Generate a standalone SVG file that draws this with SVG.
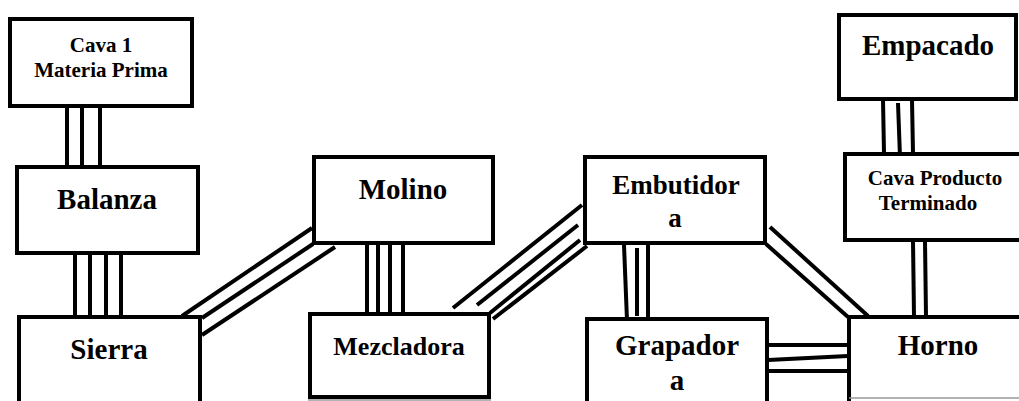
<svg xmlns="http://www.w3.org/2000/svg" width="1019" height="401" viewBox="0 0 1019 401">
<style>
.box{fill:#fff;stroke:#000;stroke-width:4}
.t{font-family:"Liberation Serif","Times New Roman",serif;font-weight:bold;fill:#000;text-anchor:middle}
.big{font-size:29px}
.mid{font-size:27px}
.sm{font-size:21px}
.c line{stroke:#000;stroke-width:4;stroke-linecap:butt}
.edge{stroke:#999;stroke-width:1.5}
</style>
<rect width="1019" height="401" fill="#fff"/>
<g class="c" id="connectors">
<line x1="67" y1="107" x2="67" y2="166"/>
<line x1="82" y1="107" x2="82" y2="166"/>
<line x1="100" y1="107" x2="100" y2="166"/>
<line x1="75" y1="254" x2="75" y2="316"/>
<line x1="90" y1="254" x2="90" y2="316"/>
<line x1="106" y1="254" x2="106" y2="316"/>
<line x1="121" y1="254" x2="121" y2="316"/>
<line x1="182" y1="316" x2="312" y2="228"/>
<line x1="202" y1="318" x2="313" y2="244"/>
<line x1="202" y1="335" x2="335" y2="247"/>
<line x1="367" y1="244" x2="367" y2="313"/>
<line x1="378" y1="244" x2="378" y2="313"/>
<line x1="390" y1="244" x2="390" y2="313"/>
<line x1="403" y1="244" x2="403" y2="313"/>
<line x1="453" y1="308" x2="582" y2="205"/>
<line x1="477" y1="305" x2="578" y2="225"/>
<line x1="490" y1="313" x2="580" y2="240"/>
<line x1="493" y1="319" x2="587" y2="246"/>
<line x1="624" y1="245" x2="627" y2="320"/>
<line x1="637" y1="248" x2="637" y2="316"/>
<line x1="648" y1="244" x2="648" y2="318"/>
<line x1="770" y1="227" x2="868" y2="316"/>
<line x1="766" y1="244" x2="848" y2="317"/>
<line x1="768" y1="345" x2="848" y2="345"/>
<line x1="768" y1="360" x2="848" y2="356"/>
<line x1="768" y1="371" x2="848" y2="371"/>
<line x1="883" y1="100" x2="884" y2="153"/>
<line x1="898" y1="103" x2="900" y2="157"/>
<line x1="912" y1="100" x2="913" y2="153"/>
<line x1="913" y1="241" x2="914" y2="316"/>
<line x1="925" y1="241" x2="926" y2="316"/>
</g>
<g id="cava1">
<rect class="box" x="10" y="19" width="182" height="87"/>
<text class="t sm" x="101" y="52">Cava 1</text>
<text class="t sm" x="101" y="77">Materia Prima</text>
</g>
<g id="balanza">
<rect class="box" x="17" y="167" width="181" height="86"/>
<text class="t big" x="107" y="209">Balanza</text>
</g>
<g id="sierra">
<rect class="box" x="19" y="317" width="181" height="100"/>
<text class="t big" x="109" y="359">Sierra</text>
</g>
<g id="molino">
<rect class="box" x="314" y="157" width="179" height="86"/>
<text class="t big" x="403" y="199">Molino</text>
</g>
<g id="mezcladora">
<rect class="box" x="310" y="314" width="179" height="83"/>
<text class="t mid" x="399" y="355" style="font-size:26px">Mezcladora</text>
<line class="edge" x1="308" y1="400" x2="491" y2="400"/>
</g>
<g id="embutidora">
<rect class="box" x="585" y="157" width="180" height="86"/>
<text class="t mid" x="676" y="194">Embutidor</text>
<text class="t mid" x="675" y="227">a</text>
</g>
<g id="grapadora">
<rect class="box" x="587" y="319" width="180" height="100"/>
<text class="t big" x="677" y="355">Grapador</text>
<text class="t big" x="677" y="390">a</text>
</g>
<g id="empacado">
<rect class="box" x="839" y="15" width="177" height="84"/>
<text class="t big" x="928" y="55">Empacado</text>
</g>
<g id="cava-producto">
<rect class="box" x="845" y="154" width="200" height="86"/>
<text class="t sm" x="935" y="185">Cava Producto</text>
<text class="t sm" x="928" y="210">Terminado</text>
</g>
<g id="horno">
<rect class="box" x="849" y="317" width="200" height="120"/>
<line class="edge" x1="849" y1="398" x2="1019" y2="398"/>
<text class="t big" x="938" y="355">Horno</text>
</g>
</svg>
